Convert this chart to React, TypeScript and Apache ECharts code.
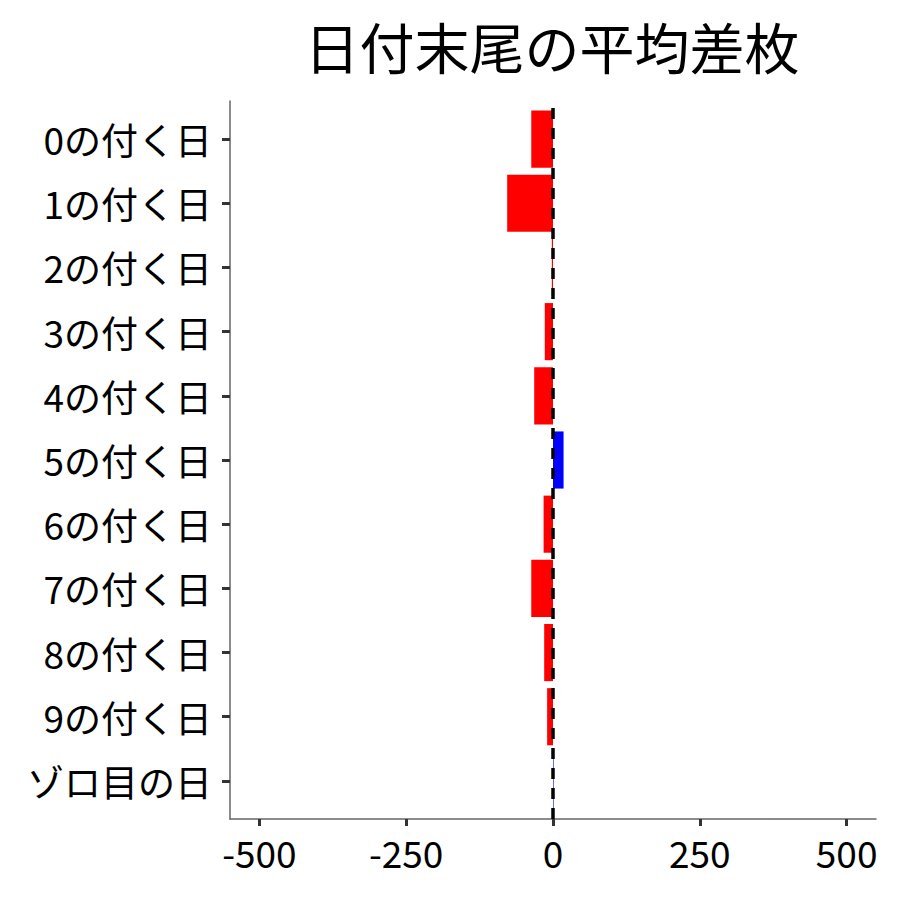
import { useEffect, useRef } from "react";
import * as echarts from "echarts";

// Category labels, top to bottom
const categories = [
  "0の付く日",
  "1の付く日",
  "2の付く日",
  "3の付く日",
  "4の付く日",
  "5の付く日",
  "6の付く日",
  "7の付く日",
  "8の付く日",
  "9の付く日",
  "ゾロ目の日",
];

// Average difference (coins) per category
const avgDiff = [-37, -78, -2, -14, -32, 18, -16, -37, -15, -10, 1];

const xTicks = [-500, -250, 0, 250, 500];
const X_MIN = -550;
const X_MAX = 550;

const FONT = "'Noto Sans CJK JP', 'Noto Sans', sans-serif";

export default function App() {
  const chartRef = useRef<HTMLDivElement>(null);

  useEffect(() => {
    document.body.style.margin = "0";
    if (!chartRef.current) return;
    const chart = echarts.init(chartRef.current, undefined, { renderer: "svg" });

    const axisLineStyle = { color: "#666", width: 1.5 };
    const tickStyle = { color: "#333", width: 3 };

    chart.setOption({
      animation: false,
      backgroundColor: "#fff",
      textStyle: { fontFamily: FONT },
      graphic: [
        {
          type: "text",
          x: 552,
          y: 45,
          style: {
            text: "日付末尾の平均差枚",
            font: `55px ${FONT}`,
            fill: "#000",
            textAlign: "center",
            textVerticalAlign: "middle",
          },
        },
      ],
      // grid 0: bars (inset like ggplot's discrete expansion); grid 1: axis frame
      grid: [
        { left: 230, right: 24, top: 107, bottom: 87, outerBoundsMode: "none" },
        { left: 230, right: 24, top: 101, bottom: 81, outerBoundsMode: "none" },
      ],
      xAxis: [
        {
          gridIndex: 0,
          type: "value",
          min: X_MIN,
          max: X_MAX,
          show: false,
        },
        {
          gridIndex: 1,
          type: "value",
          min: X_MIN,
          max: X_MAX,
          splitLine: { show: false },
          axisLine: { show: true, onZero: false, lineStyle: axisLineStyle },
          axisTick: { show: true, length: 7, customValues: xTicks, lineStyle: tickStyle },
          axisLabel: {
            fontSize: 37,
            color: "#000",
            margin: 14,
            fontFamily: FONT,
            customValues: xTicks,
            formatter: (v: number) => String(v),
          },
        },
      ],
      yAxis: [
        {
          gridIndex: 0,
          type: "category",
          data: categories,
          inverse: true,
          axisLine: { show: false, onZero: false },
          axisTick: { show: true, alignWithLabel: true, length: 8, lineStyle: tickStyle },
          axisLabel: { fontSize: 37, color: "#000", margin: 18, fontFamily: FONT },
          splitLine: { show: false },
        },
        {
          gridIndex: 1,
          type: "value",
          min: 0,
          max: 1,
          axisLine: { show: true, onZero: false, lineStyle: axisLineStyle },
          axisTick: { show: false },
          axisLabel: { show: false },
          splitLine: { show: false },
        },
      ],
      series: [
        {
          type: "bar",
          xAxisIndex: 0,
          yAxisIndex: 0,
          barWidth: "89%",
          data: avgDiff.map((v) => ({
            value: v,
            itemStyle: { color: v >= 0 ? "#0000FF" : "#FF0000" },
          })),
          z: 2,
        },
        {
          type: "line",
          xAxisIndex: 1,
          yAxisIndex: 1,
          data: [],
          z: 3,
          markLine: {
            silent: true,
            symbol: ["none", "none"],
            label: { show: false },
            lineStyle: { color: "#000", width: 3.5, type: [11, 9] },
            data: [{ xAxis: 0 }],
          },
        },
      ],
    });

    return () => chart.dispose();
  }, []);

  return <div ref={chartRef} style={{ width: 900, height: 900 }} />;
}
